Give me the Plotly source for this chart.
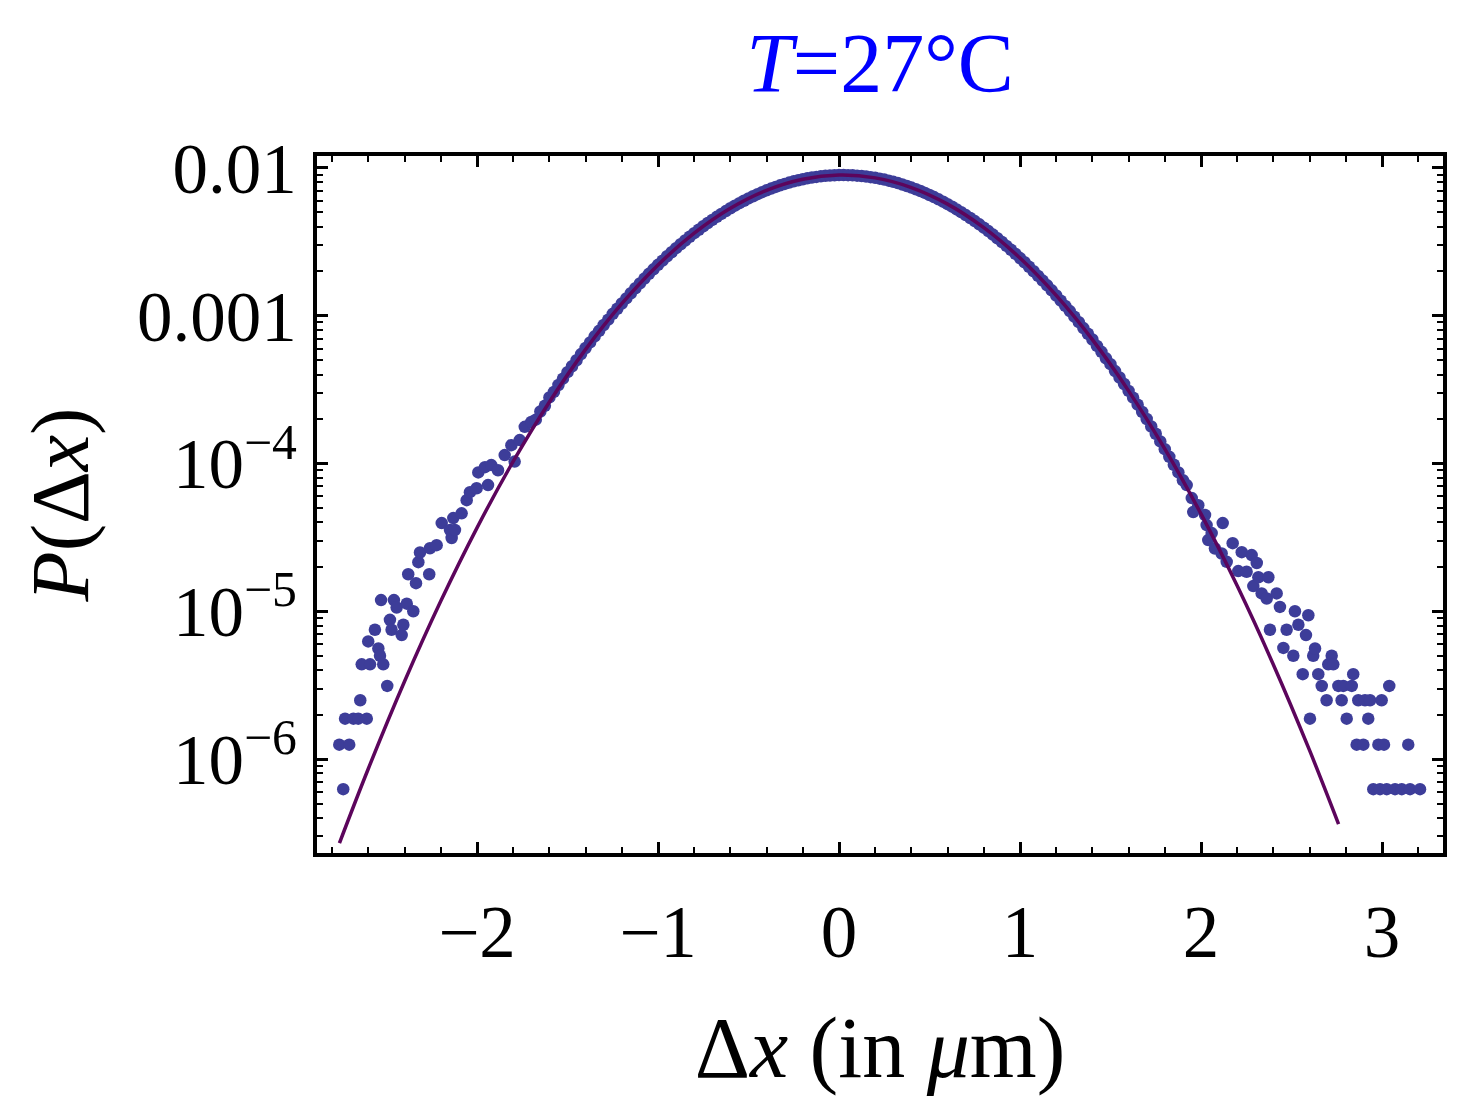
import plotly.graph_objects as go

# ---------------- data ----------------
# left tail of the measured histogram
x_left = [-2.761, -2.739, -2.729, -2.706, -2.683, -2.656, -2.645, -2.637, -2.609, -2.601,
          -2.591, -2.564, -2.545, -2.536, -2.530, -2.518, -2.496, -2.481, -2.472, -2.459,
          -2.444, -2.416, -2.407, -2.388, -2.380, -2.352, -2.337, -2.324, -2.315, -2.264,
          -2.260, -2.223, -2.195, -2.149, -2.140, -2.131, -2.122, -2.085, -2.057, -2.039,
          -2.002, -1.993, -1.956, -1.939, -1.921, -1.884, -1.847, -1.810, -1.792, -1.764,
          -1.736, -1.700]
p_left = [1.25e-6, 6.25e-7, 1.875e-6, 1.25e-6, 1.875e-6, 1.875e-6, 2.5e-6, 4.375e-6, 1.875e-6, 6.25e-6,
          4.375e-6, 7.5e-6, 5.6e-6, 5.0e-6, 1.19e-5, 4.375e-6, 3.125e-6, 8.75e-6, 7.5e-6, 1.19e-5,
          1.06e-5, 6.9e-6, 8.1e-6, 1.125e-5, 1.78e-5, 1.0e-5, 1.55e-5, 2.15e-5, 2.5e-5, 1.78e-5,
          2.67e-5, 2.8e-5, 3.95e-5, 3.55e-5, 3.13e-5, 4.27e-5, 3.55e-5, 4.6e-5, 5.65e-5, 6.4e-5,
          6.8e-5, 8.7e-5, 9.45e-5, 7.14e-5, 9.75e-5, 9.0e-5, 1.14e-4, 1.33e-4, 1.03e-4, 1.44e-4,
          1.77e-4, 1.91e-4]

# central part of the histogram (dense band along the fit)
x_mid = [-1.675, -1.650, -1.625, -1.600, -1.575, -1.550, -1.525, -1.500, -1.475, -1.450,
         -1.425, -1.400, -1.375, -1.350, -1.325, -1.300, -1.275, -1.250, -1.225, -1.200,
         -1.175, -1.150, -1.125, -1.100, -1.075, -1.050, -1.025, -1.000, -0.975, -0.950,
         -0.925, -0.900, -0.875, -0.850, -0.825, -0.800, -0.775, -0.750, -0.725, -0.700,
         -0.675, -0.650, -0.625, -0.600, -0.575, -0.550, -0.525, -0.500, -0.475, -0.450,
         -0.425, -0.400, -0.375, -0.350, -0.325, -0.300, -0.275, -0.250, -0.225, -0.200,
         -0.175, -0.150, -0.125, -0.100, -0.075, -0.050, -0.025, 0.000, 0.025, 0.050,
         0.075, 0.100, 0.125, 0.150, 0.175, 0.200, 0.225, 0.250, 0.275, 0.300,
         0.325, 0.350, 0.375, 0.400, 0.425, 0.450, 0.475, 0.500, 0.525, 0.550,
         0.575, 0.600, 0.625, 0.650, 0.675, 0.700, 0.725, 0.750, 0.775, 0.800,
         0.825, 0.850, 0.875, 0.900, 0.925, 0.950, 0.975, 1.000, 1.025, 1.050,
         1.075, 1.100, 1.125, 1.150, 1.175, 1.200, 1.225, 1.250, 1.275, 1.300,
         1.325, 1.350, 1.375, 1.400, 1.425, 1.450, 1.475, 1.500, 1.525, 1.550,
         1.575, 1.600, 1.625, 1.650, 1.675, 1.700, 1.725, 1.750, 1.775, 1.800,
         1.825, 1.850, 1.875, 1.900]
p_mid = [1.98e-4, 2.25e-4, 2.46e-4, 2.80e-4, 3.05e-4, 3.40e-4, 3.75e-4, 4.15e-4, 4.55e-4, 5.00e-4,
         5.50e-4, 6.05e-4, 6.60e-4, 7.25e-4, 7.90e-4, 8.65e-4, 9.40e-4, 1.03e-3, 1.115e-3, 1.21e-3,
         1.31e-3, 1.42e-3, 1.535e-3, 1.655e-3, 1.785e-3, 1.92e-3, 2.06e-3, 2.21e-3, 2.36e-3, 2.525e-3,
         2.69e-3, 2.865e-3, 3.045e-3, 3.23e-3, 3.425e-3, 3.62e-3, 3.82e-3, 4.03e-3, 4.24e-3, 4.45e-3,
         4.67e-3, 4.89e-3, 5.11e-3, 5.335e-3, 5.56e-3, 5.78e-3, 6.0e-3, 6.22e-3, 6.44e-3, 6.65e-3,
         6.86e-3, 7.06e-3, 7.255e-3, 7.445e-3, 7.63e-3, 7.80e-3, 7.965e-3, 8.12e-3, 8.26e-3, 8.39e-3,
         8.51e-3, 8.61e-3, 8.70e-3, 8.78e-3, 8.845e-3, 8.895e-3, 8.93e-3, 8.95e-3, 8.955e-3, 8.94e-3,
         8.915e-3, 8.875e-3, 8.82e-3, 8.75e-3, 8.665e-3, 8.57e-3, 8.46e-3, 8.34e-3, 8.205e-3, 8.06e-3,
         7.90e-3, 7.73e-3, 7.555e-3, 7.37e-3, 7.18e-3, 6.98e-3, 6.775e-3, 6.565e-3, 6.35e-3, 6.13e-3,
         5.915e-3, 5.69e-3, 5.47e-3, 5.245e-3, 5.025e-3, 4.80e-3, 4.585e-3, 4.37e-3, 4.155e-3, 3.945e-3,
         3.74e-3, 3.54e-3, 3.345e-3, 3.155e-3, 2.97e-3, 2.795e-3, 2.62e-3, 2.455e-3, 2.30e-3, 2.145e-3,
         2.0e-3, 1.86e-3, 1.73e-3, 1.605e-3, 1.485e-3, 1.37e-3, 1.265e-3, 1.165e-3, 1.075e-3, 9.85e-4,
         9.05e-4, 8.25e-4, 7.55e-4, 6.90e-4, 6.25e-4, 5.70e-4, 5.15e-4, 4.70e-4, 4.22e-4, 3.82e-4,
         3.45e-4, 3.10e-4, 2.79e-4, 2.50e-4, 2.235e-4, 2.0e-4, 1.78e-4, 1.59e-4, 1.41e-4, 1.25e-4,
         1.11e-4, 9.8e-5, 8.7e-5, 7.7e-5]

# right tail of the measured histogram
x_right = [1.921, 1.949, 1.957, 1.985, 2.022, 2.031, 2.040, 2.059, 2.077, 2.114,
           2.120, 2.142, 2.175, 2.206, 2.225, 2.252, 2.280, 2.289, 2.308, 2.317,
           2.335, 2.363, 2.372, 2.381, 2.418, 2.436, 2.455, 2.473, 2.510, 2.519,
           2.538, 2.562, 2.580, 2.593, 2.602, 2.620, 2.630, 2.648, 2.667, 2.694,
           2.703, 2.722, 2.731, 2.759, 2.777, 2.786, 2.805, 2.833, 2.841, 2.860,
           2.869, 2.897, 2.906, 2.924, 2.934, 2.952, 2.980, 2.989, 2.998, 3.011,
           3.026, 3.040, 3.072, 3.109, 3.145, 3.155, 3.210]
p_right = [7.14e-5, 5.83e-5, 4.69e-5, 5.22e-5, 4.48e-5, 3.83e-5, 3.03e-5, 3.38e-5, 2.66e-5, 2.46e-5,
           3.95e-5, 2.16e-5, 2.89e-5, 1.87e-5, 2.51e-5, 1.85e-5, 2.40e-5, 1.48e-5, 2.12e-5, 1.70e-5,
           1.32e-5, 1.22e-5, 1.70e-5, 7.5e-6, 1.32e-5, 1.07e-5, 5.65e-6, 7.5e-6, 5.0e-6, 1.0e-5,
           8.1e-6, 3.75e-6, 6.9e-6, 9.4e-6, 1.875e-6, 5.0e-6, 5.6e-6, 3.75e-6, 3.125e-6, 2.5e-6,
           4.375e-6, 5.0e-6, 4.375e-6, 3.125e-6, 2.5e-6, 3.125e-6, 1.875e-6, 3.125e-6, 3.75e-6, 1.25e-6,
           2.5e-6, 1.25e-6, 2.5e-6, 1.875e-6, 2.5e-6, 6.25e-7, 1.25e-6, 6.25e-7, 2.5e-6, 1.25e-6,
           6.25e-7, 3.125e-6, 6.25e-7, 6.25e-7, 1.25e-6, 6.25e-7, 6.25e-7]

# fitted curve
x_fit = [-2.76, -2.6, -2.4, -2.2, -2.0, -1.8, -1.6, -1.4, -1.2, -1.0, -0.8, -0.6, -0.4, -0.2, 0.0,
         0.2, 0.4, 0.6, 0.8, 1.0, 1.2, 1.4, 1.6, 1.8, 2.0, 2.2, 2.4, 2.6, 2.76]
p_fit = [2.70e-7, 8.63e-7, 3.36e-6, 1.172e-5, 3.67e-5, 1.033e-4, 2.61e-4, 5.92e-4, 1.206e-3, 2.205e-3,
         3.62e-3, 5.334e-3, 7.06e-3, 8.389e-3, 8.95e-3, 8.571e-3, 7.37e-3, 5.692e-3, 3.944e-3, 2.456e-3,
         1.372e-3, 6.885e-4, 3.101e-4, 1.254e-4, 4.56e-5, 1.486e-5, 4.35e-6, 1.143e-6, 3.63e-7]

x_tick_vals = [-2, -1, 0, 1, 2, 3]
x_tick_text = ["\u22122", "\u22121", "0", "1", "2", "3"]
y_tick_vals = [1e-6, 1e-5, 1e-4, 1e-3, 1e-2]
y_tick_text = ["10<sup>\u22126</sup>", "10<sup>\u22125</sup>", "10<sup>\u22124</sup>", "0.001", "0.01"]

title_text = "<i>T</i>=27\u00b0C"
x_title = "\u0394<i>x</i> (in <i>\u03bc</i>m)"
y_title = "<i>P</i>(\u0394<i>x</i>)"

# ---------------- figure ----------------
FONT = "Liberation Serif"
DOT = "rgb(61,61,153)"
LINE = "rgb(92,5,92)"

x_data = x_left + x_mid + x_right
p_data = p_left + p_mid + p_right

fig = go.Figure()
fig.add_trace(go.Scatter(x=x_data, y=p_data, mode="markers",
                         marker=dict(size=12.5, color=DOT, line=dict(width=0)),
                         showlegend=False, cliponaxis=True))
fig.add_trace(go.Scatter(x=x_fit, y=p_fit, mode="lines",
                         line=dict(color=LINE, width=3.5, shape="spline"),
                         showlegend=False))

minor_x = [v / 10 for v in range(-28, 34, 2) if v % 10 != 0]
minor_y = []
for e in range(-7, -1):
    for m in range(2, 10):
        v = m * 10.0 ** e
        if 2.2e-7 <= v <= 1.2e-2:
            minor_y.append(v)

fig.update_layout(
    width=1459, height=1109,
    margin=dict(l=317, r=16, t=156, b=256, autoexpand=False),
    paper_bgcolor="white", plot_bgcolor="white",
    font=dict(family=FONT, color="black"),
    title=dict(text=title_text, x=0.5, xref="paper", xanchor="center",
               y=1 - 63 / 1109, yref="container", yanchor="middle",
               font=dict(family=FONT, size=84, color="rgb(0,0,255)")),
    xaxis=dict(range=[-2.884, 3.337], tickmode="array", tickvals=x_tick_vals, ticktext=x_tick_text,
               ticks="inside", ticklen=11, tickwidth=2.5, tickcolor="black",
               showline=True, linecolor="black", linewidth=4, mirror="allticks",
               showgrid=False, zeroline=False, automargin=False,
               tickfont=dict(family=FONT, size=73, color="black"), ticklabelstandoff=12,
               minor=dict(tickmode="array", tickvals=minor_x, ticks="inside", ticklen=6,
                          tickwidth=2, tickcolor="black", showgrid=False),
               title=dict(text=x_title, font=dict(family=FONT, size=86, color="black"), standoff=46)),
    yaxis=dict(type="log", range=[-6.636, -1.919], tickmode="array", tickvals=y_tick_vals,
               ticktext=y_tick_text,
               ticks="inside", ticklen=11, tickwidth=2.5, tickcolor="black",
               showline=True, linecolor="black", linewidth=4, mirror="allticks",
               showgrid=False, zeroline=False, automargin=False,
               tickfont=dict(family=FONT, size=71, color="black"), ticklabelstandoff=2,
               minor=dict(tickmode="array", tickvals=minor_y, ticks="inside", ticklen=6,
                          tickwidth=2, tickcolor="black", showgrid=False),
               title=dict(text=y_title, font=dict(family=FONT, size=82, color="black"), standoff=22)),
)

fig.write_html("out.html")
